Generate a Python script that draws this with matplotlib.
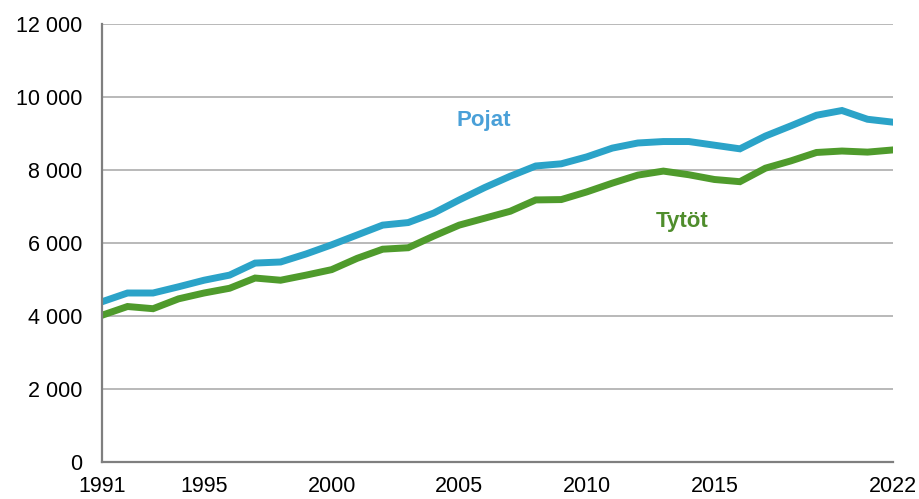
import matplotlib
matplotlib.use('Agg')
import matplotlib.pyplot as plt
from matplotlib.ticker import FuncFormatter

plt.rcParams['font.family'] = ['Liberation Sans', 'DejaVu Sans']

years = list(range(1991, 2023))
pojat = [4390, 4630, 4630, 4800, 4980, 5120, 5450, 5480, 5700, 5950,
         6220, 6490, 6560, 6820, 7180, 7520, 7830, 8110, 8170, 8360,
         8600, 8740, 8780, 8780, 8680, 8580, 8930, 9210, 9500, 9630,
         9390, 9310]
tytot = [4020, 4260, 4200, 4470, 4630, 4760, 5040, 4980, 5120, 5270,
         5580, 5830, 5870, 6190, 6490, 6680, 6870, 7180, 7190, 7400,
         7640, 7860, 7970, 7870, 7740, 7680, 8050, 8250, 8480, 8520,
         8490, 8550]
xticks = [1991, 1995, 2000, 2005, 2010, 2015, 2022]
yticks = [0, 2000, 4000, 6000, 8000, 10000, 12000]

fig = plt.figure(figsize=(9.2, 4.99), dpi=100)
ax = fig.add_axes([102/920, 37/499, (893-102)/920, (462-24)/499])

ax.plot(years, pojat, color='#2ba3c8', lw=5, solid_joinstyle='miter')
ax.plot(years, tytot, color='#4f9b2c', lw=5, solid_joinstyle='miter')

ax.text(2004.9, 9350, 'Pojat', color='#4aa0d8', fontsize=16, fontweight='bold',
        va='center', ha='left')
ax.text(2012.7, 6600, 'Tytöt', color='#4f8d2c', fontsize=16, fontweight='bold',
        va='center', ha='left')

ax.set_xlim(1991, 2022)
ax.set_ylim(0, 12000)
ax.set_xticks(xticks)
ax.set_yticks(yticks)
ax.yaxis.set_major_formatter(FuncFormatter(lambda v, p: f'{int(v):,}'.replace(',', ' ')))
ax.grid(axis='y', color='#a6a6a6', lw=1.1)
ax.set_axisbelow(True)
for s in ['top', 'right']:
    ax.spines[s].set_visible(False)
for s in ['left', 'bottom']:
    ax.spines[s].set_color('#7f7f7f')
    ax.spines[s].set_linewidth(1.6)
ax.tick_params(axis='both', length=0, labelsize=15.5, colors='#000000')
ax.tick_params(axis='y', pad=14)
ax.tick_params(axis='x', pad=10)

fig.savefig('out.png', dpi=100)
